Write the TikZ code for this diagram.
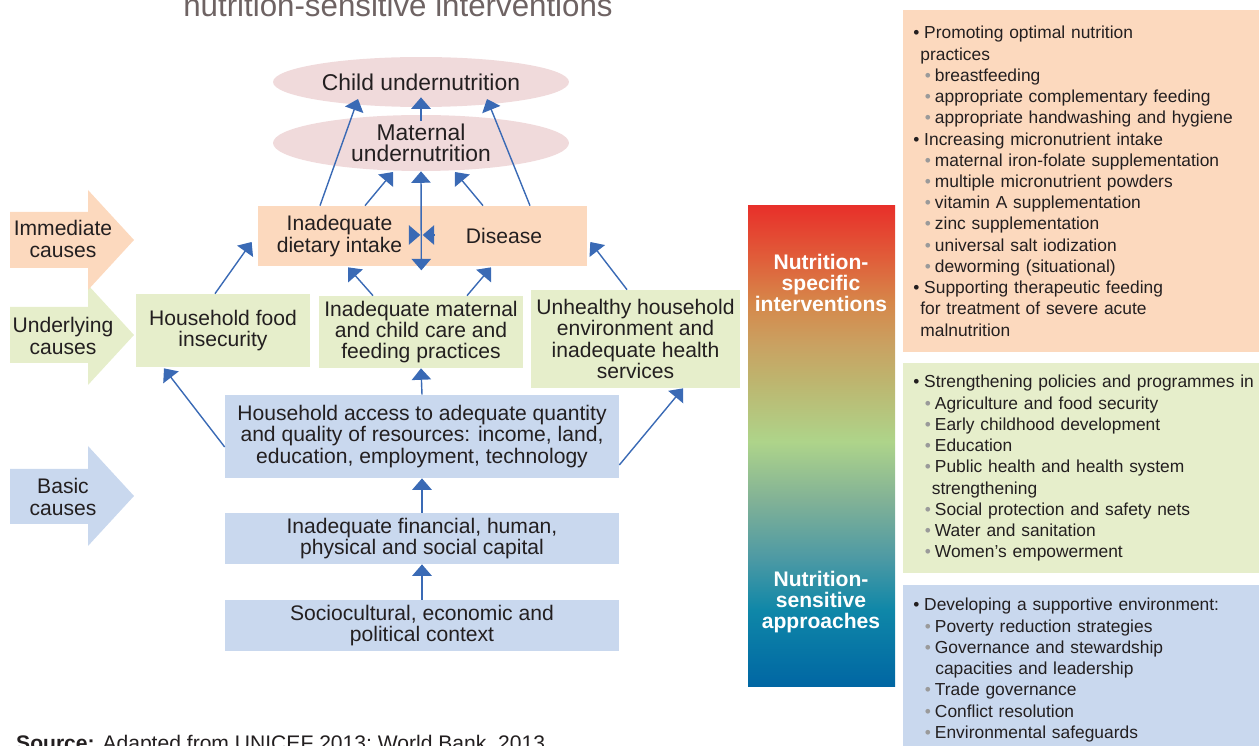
\documentclass[tikz,border=0pt]{standalone}
\usepackage{fontspec}
\setmainfont{Liberation Sans}
\usetikzlibrary{shapes.geometric, arrows.meta, positioning, calc}

\definecolor{ink}{HTML}{231F20}
\definecolor{peach}{HTML}{FCD9BE}
\definecolor{leaf}{HTML}{E6EECB}
\definecolor{sky}{HTML}{C9D8EE}
\definecolor{blush}{HTML}{F0DADB}
\definecolor{arrowblue}{HTML}{3A6AB5}
\definecolor{titlegrey}{HTML}{6E6363}
\definecolor{dotgrey}{HTML}{9A9A9A}

\definecolor{g1}{HTML}{E8302A}
\definecolor{g2}{HTML}{E05E3A}
\definecolor{g3}{HTML}{D6874A}
\definecolor{g4}{HTML}{C9A262}
\definecolor{g5}{HTML}{BEB46E}
\definecolor{g6}{HTML}{AED48A}
\definecolor{g7}{HTML}{82B296}
\definecolor{g8}{HTML}{4E9AA4}
\definecolor{g9}{HTML}{0F87A8}
\definecolor{g10}{HTML}{0066A3}
\pgfdeclareverticalshading{barshade}{100bp}{color(0bp)=(g10); color(25bp)=(g10); color(33bp)=(g9); color(38.5bp)=(g8); color(44.5bp)=(g7); color(50.5bp)=(g6); color(57bp)=(g5); color(60.5bp)=(g4); color(65bp)=(g3); color(69.5bp)=(g2); color(75bp)=(g1); color(100bp)=(g1)}

\newcommand{\mainpt}{\makebox[6.2pt][l]{\textbullet}}
\newcommand{\subpt}{\hspace*{6.6pt}\makebox[5.7pt][l]{\textcolor{dotgrey}{\textbullet}}}

\begin{document}
\begin{tikzpicture}[
      x=0.02cm, y=-0.02cm,
      font=\fontsize{12}{12.2}\selectfont,
      box/.style={rectangle, align=center, inner sep=1pt, text=ink},
      oval/.style={ellipse, fill=blush, align=center, inner sep=0pt, text=ink, minimum width=5.92cm, font=\fontsize{13}{12.2}\selectfont},
      level/.style={align=center, text=ink},
      barlabel/.style={align=center, text=white, font=\bfseries\fontsize{12}{12}\selectfont},
      panel/.style={anchor=north west, inner xsep=0.2cm, inner ysep=0pt, text width=8cm, align=left, text=ink, font=\fontsize{9.9}{12.08}\selectfont},
      arrow/.style={thick,->,>={Triangle[width=11pt,length=6.5pt]}, draw=arrowblue}
    ]
      \useasboundingbox (0,0) rectangle (1259,746);

      \node (title) [anchor=base, text=titlegrey, font=\fontsize{17.8}{20}\selectfont] at (398,17) {nutrition-sensitive interventions};

      \fill[leaf] (10,307) -- (88,307) -- (88,285) -- (134,335) -- (88,385) -- (88,363) -- (10,363) -- cycle;
      \fill[peach] (10,212) -- (88,212) -- (88,190) -- (134,240) -- (88,290) -- (88,268) -- (10,268) -- cycle;
      \fill[sky] (10,469) -- (88,469) -- (88,446) -- (134,496) -- (88,546) -- (88,524) -- (10,524) -- cycle;
      \node (immediate) [level] at (63,239) {Immediate\\causes};
      \node (underlying) [level] at (63,336) {Underlying\\causes};
      \node (basic) [level] at (63,497) {Basic\\causes};

      \node (child) [oval, minimum height=1cm] at (421,82) {Child undernutrition};
      \node (maternal) [oval, minimum height=1.12cm] at (421,143) {Maternal\\undernutrition};

      \node (diet) [box, fill=peach, minimum width=3.26cm, minimum height=1.2cm] at (339.5,236) {Inadequate\\dietary intake};
      \node (disease) [box, fill=peach, minimum width=3.32cm, minimum height=1.2cm] at (504,236) {Disease};

      \node (food) [box, fill=leaf, minimum width=3.48cm, minimum height=1.46cm] at (223,330.5) {Household food\\insecurity};
      \node (care) [box, fill=leaf, minimum width=4.08cm, minimum height=1.44cm] at (421,332) {Inadequate maternal\\and child care and\\feeding practices};
      \node (unhealthy) [box, fill=leaf, minimum width=4.18cm, minimum height=1.96cm] at (635.5,339) {Unhealthy household\\environment and\\inadequate health\\services};

      \node (access) [box, fill=sky, minimum width=7.88cm, minimum height=1.66cm] at (422,436.5) {Household access to adequate quantity\\and quality of resources: income, land,\\education, employment, technology};
      \node (capital) [box, fill=sky, minimum width=7.88cm, minimum height=1.02cm] at (422,538.5) {Inadequate financial, human,\\physical and social capital};
      \node (context) [box, fill=sky, minimum width=7.88cm, minimum height=1.02cm] at (422,625.5) {Sociocultural, economic and\\political context};

      \draw [arrow] ($(maternal.north)+(0,6)$) -- ($(child.south)+(0,-10)$);
      \draw [arrow] ($(diet.north)+(-19.5,0)$) -- ($(child.center)+(-63,17)$);
      \draw [arrow] ($(diet.north)+(25.5,0)$) -- ($(maternal.center)+(-28,29)$);
      \draw [arrow, <->] ($(diet.south east)+(0,4)$) -- (maternal.south);
      \draw [arrow] ($(disease.north)+(-21,0)$) -- ($(maternal.center)+(34,29)$);
      \draw [arrow] ($(disease.north)+(26,0)$) -- ($(child.center)+(66,17)$);
      \draw [arrow] ($(diet.east)+(-12,-1)$) -- ($(diet.east)+(-1,-1)$);
      \draw [arrow] ($(disease.west)+(13,-1)$) -- ($(disease.west)+(2,-1)$);

      \draw [arrow] ($(food.north)+(-8,0)$) -- ($(diet.west)+(-6,6)$);
      \draw [arrow] ($(care.north)+(-48,0)$) -- ($(diet.south)+(8.5,1)$);
      \draw [arrow] ($(care.north)+(46,0)$) -- ($(disease.south)+(-13,1)$);
      \draw [arrow] ($(unhealthy.north)+(-8.5,0)$) -- ($(disease.east)+(3,6)$);

      \draw [arrow] ($(access.west)+(0,10.5)$) -- ($(food.south)+(-59,1)$);
      \draw [arrow] (access.north) -- (care.south);
      \draw [arrow] ($(access.east)+(0,28.5)$) -- ($(unhealthy.south)+(47.5,0)$);
      \draw [arrow] (capital.north) -- (access.south);
      \draw [arrow] (context.north) -- (capital.south);

      \shade[shading=barshade] (748,206) rectangle (895,687);
      \node (specific) [barlabel] at (821,283) {Nutrition-\\specific\\interventions};
      \node (sensitive) [barlabel] at (821,602) {Nutrition-\\sensitive\\approaches};

      \node (specificlist) [panel, fill=peach, minimum height=6.84cm] at (903,10) {%
        \mainpt Promoting optimal nutrition\\
        \hspace*{4pt}practices\\
        \subpt breastfeeding\\
        \subpt appropriate complementary feeding\\
        \subpt appropriate handwashing and hygiene\\
        \mainpt Increasing micronutrient intake\\
        \subpt maternal iron-folate supplementation\\
        \subpt multiple micronutrient powders\\
        \subpt vitamin A supplementation\\
        \subpt zinc supplementation\\
        \subpt universal salt iodization\\
        \subpt deworming (situational)\\
        \mainpt Supporting therapeutic feeding\\
        \hspace*{4pt}for treatment of severe acute\\
        \hspace*{4pt}malnutrition};
      \node (sensitivelist) [panel, fill=leaf, minimum height=4.2cm] at (903,363) {%
        \mainpt Strengthening policies and programmes in\\
        \subpt Agriculture and food security\\
        \subpt Early childhood development\\
        \subpt Education\\
        \subpt Public health and health system\\
        \hspace*{10.5pt}strengthening\\
        \subpt Social protection and safety nets\\
        \subpt Water and sanitation\\
        \subpt Women’s empowerment};
      \node (environmentlist) [panel, fill=sky, inner ysep=0.26cm] at (903,585) {%
        \mainpt Developing a supportive environment:\\
        \subpt Poverty reduction strategies\\
        \subpt Governance and stewardship\\
        \hspace*{12.5pt}capacities and leadership\\
        \subpt Trade governance\\
        \subpt Conflict resolution\\
        \subpt Environmental safeguards};

      \node (source) [anchor=base west, text=ink] at (10,751) {\textbf{Source:} Adapted from UNICEF 2013; World Bank, 2013};
    \end{tikzpicture}
\end{document}
